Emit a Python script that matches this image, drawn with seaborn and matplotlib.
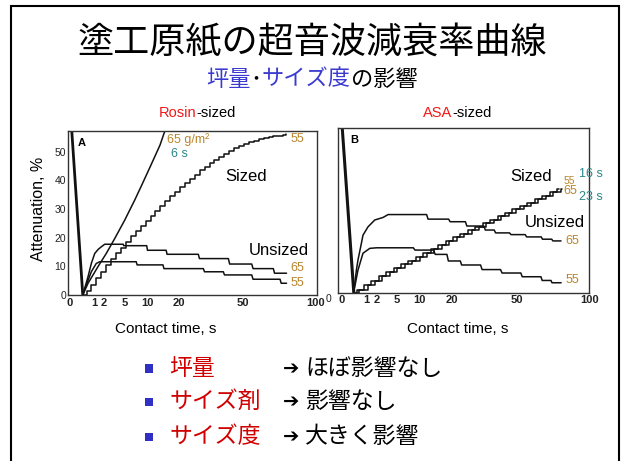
import numpy as np
import matplotlib
matplotlib.use("Agg")
import matplotlib.pyplot as plt
import seaborn as sns
from matplotlib.patches import Rectangle

# ---------------- data ----------------
time_ticks = [0, 1, 2, 5, 10, 20, 50, 100]
time_labels = ["0", "1", "2", "5", "10", "20", "50", "100"]
atten_ticks = [0, 10, 20, 30, 40, 50]

# Panel A: rosin-sized base papers (attenuation %, contact time s)
rosin_drop_t = [0.0, 0.30]
rosin_drop_y = [70.0, 0.0]

rosin_sized65_t = [0.30, 0.58, 0.93, 1.36, 2.26, 3.41, 5.07, 7.07, 8.66, 10.8, 13.6, 14.8, 15.5]
rosin_sized65_y = [0.0, 4.1, 7.0, 9.9, 14.5, 19.7, 26.1, 33.1, 38.3, 44.7, 52.3, 56.3, 58.5]

rosin_sized55_t = [0.31, 0.49, 0.81, 1.21, 1.69, 2.25, 2.89, 3.61, 4.41, 5.29,
                   6.25, 7.29, 8.41, 9.61, 10.9, 12.25, 13.7, 15.2, 16.8, 18.5,
                   20.3, 22.1, 24.0, 26.0, 28.1, 30.3, 32.5, 34.8, 37.2, 39.7,
                   42.3, 44.9, 47.6, 50.4, 53.3, 56.3, 59.3, 62.4, 65.6, 68.9,
                   72.3, 75.7, 77.4]
rosin_sized55_y = [0.0, 1.5, 3.5, 5.8, 8.1, 10.3, 12.5, 14.5, 16.5, 18.5,
                   20.5, 22.3, 24.0, 25.8, 27.5, 29.2, 31.0, 32.8, 34.5, 36.0,
                   37.5, 39.0, 40.5, 42.0, 43.5, 44.8, 46.0, 47.2, 48.3, 49.3,
                   50.3, 51.2, 52.0, 52.7, 53.3, 53.8, 54.3, 54.7, 55.0, 55.3,
                   55.6, 55.8, 56.0]

rosin_unsized65_t = [0.30, 0.58, 0.80, 1.07, 1.40, 1.69, 2.07, 4.8, 4.9, 9.9, 10.1,
                     15.5, 15.8, 27.5, 28.0, 41.8, 42.5, 55.0, 55.8, 68.8, 69.6, 78.0]
rosin_unsized65_y = [0.0, 6.4, 11.0, 14.5, 16.0, 16.8, 17.7, 17.7, 17.2, 17.2, 15.6,
                     15.6, 14.2, 14.2, 12.7, 12.7, 10.8, 10.8, 9.2, 9.2, 7.6, 7.6]

rosin_unsized55_t = [0.30, 0.48, 0.80, 1.20, 1.53, 7.4, 7.6, 14.5, 14.8, 29.7,
                     30.2, 39.2, 39.8, 55.0, 55.8, 73.4, 74.2, 78.0]
rosin_unsized55_y = [0.0, 3.5, 8.1, 11.0, 11.6, 11.6, 10.5, 10.5, 9.2, 9.2,
                     8.1, 8.1, 7.0, 7.0, 5.5, 5.5, 4.1, 4.1]

# Panel B: ASA-sized base papers
asa_drop1_t = [0.0, 0.22]
asa_drop1_y = [58.0, 0.0]
asa_drop2_t = [0.0, 0.27]
asa_drop2_y = [64.0, 0.0]

asa_sized55_t = [0.24, 0.40, 0.81, 1.44, 2.25, 3.24, 4.41, 5.76, 7.29, 9.0, 10.89,
                 12.96, 15.21, 17.64, 20.25, 23.04, 26.01, 29.16, 32.49, 36.0, 39.69,
                 43.56, 47.61, 51.84, 56.25, 60.84, 65.61, 70.56, 75.69, 77.4]
asa_sized65_t = [0.24, 0.52, 1.10, 1.82, 2.72, 3.80, 5.06, 6.50, 8.12, 9.92, 11.90,
                 14.06, 16.40, 18.92, 21.62, 24.50, 27.56, 30.80, 34.22, 37.82, 41.60,
                 45.56, 49.70, 54.02, 58.52, 63.20, 68.06, 73.10, 78.3, 79.0]
asa_sized_y = [0.0, 1.0, 2.5, 4.0, 5.6, 7.1, 8.5, 9.8, 11.1, 12.5, 13.8,
               15.3, 16.7, 18.0, 19.2, 20.5, 21.8, 23.0, 24.2, 25.4, 26.6,
               27.8, 29.0, 30.2, 31.4, 32.6, 33.8, 35.0, 36.2, 36.2]

asa_unsized65_t = [0.24, 0.36, 0.44, 0.64, 0.75, 1.14, 1.8, 2.82, 3.54, 11.8,
                   12.2, 18.7, 19.2, 25.0, 25.6, 33.0, 33.7, 38.0, 38.7, 46.0,
                   46.8, 55.0, 55.8, 65.0, 65.8, 72.0, 72.8, 78.5]
asa_unsized65_y = [0.0, 7.8, 11.3, 17.1, 20.0, 22.9, 25.3, 26.2, 27.2, 27.2,
                   25.6, 25.6, 24.7, 24.7, 23.2, 23.2, 21.8, 21.8, 20.8, 20.8,
                   20.2, 20.2, 19.4, 19.4, 18.6, 18.6, 18.0, 18.0]

asa_unsized55_t = [0.24, 0.44, 0.75, 1.3, 2.0, 8.4, 8.8, 13.8, 14.3, 18.1,
                   18.6, 23.0, 23.5, 31.5, 32.2, 41.2, 42.0, 52.4, 53.2, 64.8,
                   65.6, 71.5, 72.2, 78.6]
asa_unsized55_y = [0.0, 7.8, 13.7, 15.4, 15.6, 15.6, 14.8, 14.8, 13.3, 13.3,
                   11.0, 11.0, 9.6, 9.6, 8.0, 8.0, 6.8, 6.8, 5.5, 5.5,
                   4.2, 4.2, 3.4, 3.4]

# slide text
title_text = "塗工原紙の超音波減衰率曲線"
bullet_heads = ["坪量", "サイズ剤", "サイズ度"]
bullet_tails = ["ほぼ影響なし", "影響なし", "大きく影響"]

# ---------------- style ----------------
sns.set_style("white")
plt.rcParams["font.family"] = ["Liberation Sans", "DejaVu Sans"]
JP = ["Noto Sans CJK JP", "DejaVu Sans"]

W, H = 624, 461
ORANGE = "#B8862C"
TEAL = "#2A8888"
RED = "#F01818"
DRED = "#D00000"
BLUE = "#3A3AD0"
LINE = "#111111"

fig = plt.figure(figsize=(W / 100, H / 100), dpi=100)
fig.patch.set_facecolor("white")


def fx(x):
    return x / W


def fy(y):
    return 1 - y / H


def note(x, y, s, size, color="black", ha="left", weight="normal", family=None, rotation=0):
    kw = {}
    if family is not None:
        kw["family"] = family
    return fig.text(fx(x), fy(y), s, fontsize=size, color=color, ha=ha, va="center",
                    fontweight=weight, rotation=rotation, **kw)


def parts_centered(xc, y, parts, size, family=None):
    r = fig.canvas.get_renderer()
    texts = [note(0, y, s, size, color=c, family=family) for s, c in parts]
    widths = [t.get_window_extent(r).width for t in texts]
    x = xc - sum(widths) / 2
    for t, w in zip(texts, widths):
        t.set_position((fx(x), fy(y)))
        x += w


def trace(ax, t, y, lw=1.1, steps=False):
    kw = {"drawstyle": "steps-post"} if steps else {}
    sns.lineplot(x=t, y=y, ax=ax, color=LINE, linewidth=lw, estimator=None,
                 sort=False, legend=False, **kw)


def sqrt_fwd(v):
    return np.sign(v) * np.sqrt(np.abs(v))


def sqrt_inv(v):
    return np.sign(v) * v ** 2


def frame(ax, xlim, ylim):
    ax.set_xscale("function", functions=(sqrt_fwd, sqrt_inv))
    ax.set_xlim(*xlim)
    ax.set_ylim(*ylim)
    ax.set_xticks(time_ticks)
    ax.set_xticklabels(time_labels, fontweight="bold")
    ax.set_xlabel("")
    ax.set_ylabel("")
    ax.set_facecolor("none")
    for sp in ax.spines.values():
        sp.set_color("#333333")
        sp.set_linewidth(1.0)
    ax.tick_params(axis="both", direction="in", length=3, width=0.8,
                   labelsize=7.5, colors="#222222")
    ax.tick_params(axis="x", labelsize=8)


# ---------------- panel A ----------------
axA = fig.add_axes([fx(68.3), fy(295), (317 - 68.3) / W, (295 - 131) / H])
trace(axA, rosin_drop_t, rosin_drop_y, lw=2.0)
trace(axA, rosin_sized65_t, rosin_sized65_y)
trace(axA, rosin_sized55_t, rosin_sized55_y, steps=True)
trace(axA, rosin_unsized65_t, rosin_unsized65_y)
trace(axA, rosin_unsized55_t, rosin_unsized55_y)
frame(axA, (-0.0017, 101.4), (0, 57.2))
axA.set_yticks(atten_ticks)
axA.tick_params(axis="y", pad=1.5)
axA.tick_params(axis="x", pad=2.5)

# ---------------- panel B ----------------
axB = fig.add_axes([fx(338.3), fy(292.5), (589.3 - 338.3) / W, (292.5 - 128.3) / H])
trace(axB, asa_drop1_t, asa_drop1_y, lw=1.3)
trace(axB, asa_drop2_t, asa_drop2_y, lw=1.3)
trace(axB, asa_unsized65_t, asa_unsized65_y)
trace(axB, asa_unsized55_t, asa_unsized55_y)
trace(axB, asa_sized55_t, asa_sized_y, steps=True)
trace(axB, asa_sized65_t, asa_sized_y, steps=True)
frame(axB, (-0.017, 100.05), (0, 57.3))
axB.set_yticks([])
axB.tick_params(axis="x", pad=2)
note(328, 299, "0", 7.5, color="#222222", ha="center")

# ---------------- chart texts ----------------
note(38.3, 209, "Attenuation, %", 11.5, rotation=90, ha="center")
note(166, 329.3, "Contact time, s", 11, ha="center")
note(457.3, 329.3, "Contact time, s", 11, ha="center")
parts_centered(197.5, 113, [("Rosin", RED), ("-sized", "black")], 10.5)
parts_centered(457, 113, [("ASA", RED), ("-sized", "black")], 10.5)

note(77.3, 142.7, "A", 8, weight="bold")
note(166.7, 140, "65 g/m²", 9, color=ORANGE)
note(170.7, 154, "6 s", 9, color=TEAL)
note(290.7, 139.3, "55", 9, color=ORANGE)
note(225, 176.7, "Sized", 12)
note(248.3, 250, "Unsized", 12)
note(290.7, 268.3, "65", 9, color=ORANGE)
note(290.7, 283, "55", 9, color=ORANGE)

note(350.7, 140, "B", 8, weight="bold")
note(510.7, 176.7, "Sized", 12)
note(564, 180.5, "55", 7.5, color=ORANGE)
note(563.3, 191.5, "65", 9, color=ORANGE)
note(579, 174, "16 s", 9, color=TEAL)
note(579, 197.3, "23 s", 9, color=TEAL)
note(525, 222.7, "Unsized", 12)
note(565.7, 240.7, "65", 9, color=ORANGE)
note(565.7, 280, "55", 9, color=ORANGE)

# ---------------- slide texts ----------------
note(312, 43, title_text, 26, ha="center", family=JP)
parts_centered(312, 79, [("坪量", BLUE), ("･", "black"), ("サイズ度", BLUE), ("の影響", "black")],
               16, family=JP)

rows_y = [368.3, 401.7, 436.7]
for yy, head, tail in zip(rows_y, bullet_heads, bullet_tails):
    fig.add_artist(Rectangle((fx(145), fy(yy + 4.2)), 8.4 / W, 8.4 / H,
                             transform=fig.transFigure, color="#3030C4", lw=0))
    note(169, yy, head, 16.5, color=DRED, family=JP)
    note(283, yy + 0.5, "➔", 14, weight="bold", family=["DejaVu Sans"])
    note(305, yy, tail, 16.5, family=JP)

# slide border
fig.add_artist(Rectangle((fx(11), -0.02), (619 - 11) / W, fy(6) + 0.02,
                         transform=fig.transFigure, fill=False, ec="black", lw=1.5))

fig.savefig("out.png", dpi=100, facecolor="white")
